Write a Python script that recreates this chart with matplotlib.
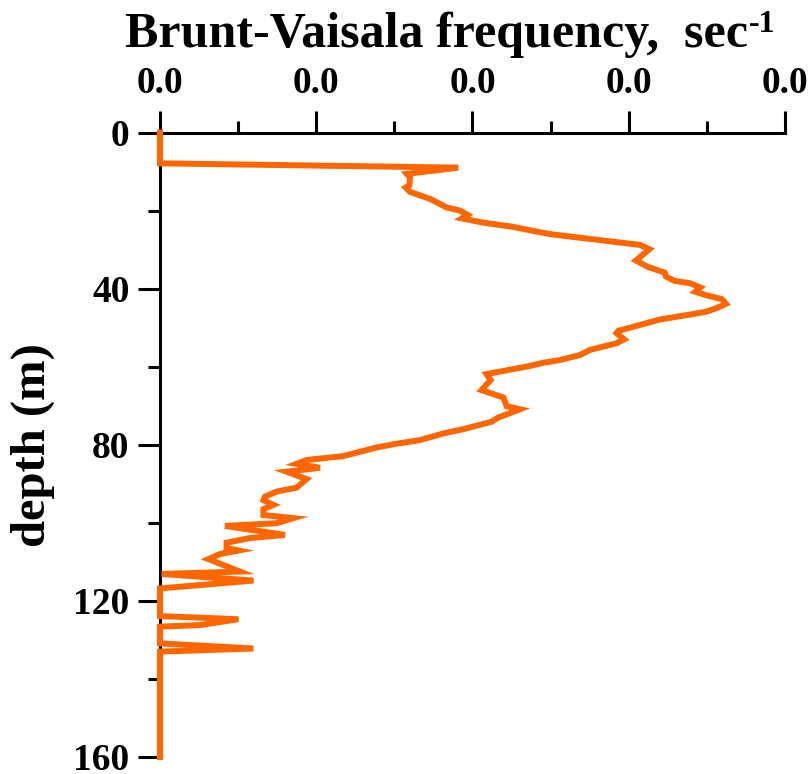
import matplotlib
matplotlib.use('Agg')
import matplotlib.pyplot as plt
import matplotlib.ticker as ticker

plt.rcParams['font.family'] = ['Liberation Serif', 'DejaVu Serif']
plt.rcParams['font.weight'] = 'bold'

# ----------------------------------------------------------------------
# Profile: depth (m) and N (sec^-1)
depth = [0, 7.9, 9.0, 10.6, 11.5, 13.5, 14.1, 15.2, 17.1, 19.2, 20.0, 21.1, 22.0, 23.1,
         24.1, 25.2, 26.1, 28.8, 29.9, 32.8, 34.4, 35.9, 36.9, 38.0, 38.6, 39.7, 40.8,
         41.6, 42.7, 43.9, 45.0, 45.9, 46.8, 47.9, 49.3, 50.8, 51.4, 53.0, 54.0, 55.7,
         57.0, 58.3, 59.0, 59.8, 61.9, 63.4, 66.0, 67.9, 70.1, 70.9, 71.9, 73.0, 74.1,
         76.0, 77.1, 78.8, 79.8, 80.7, 82.9, 83.9, 84.9, 85.9, 86.9, 88.8, 91.0, 92.0,
         93.3, 94.2, 95.4, 96.5, 98.0, 98.8, 100.1, 100.8, 103.1, 103.9, 105.1, 106.5,
         107.1, 108.0, 109.3, 112.5, 113.1, 114.8, 116.8, 123.9, 124.7, 126.2, 126.6,
         130.9, 132.2, 133.0, 160]
bv_freq = [0.0, 0.0, 0.00954, 0.00790, 0.00800, 0.00798, 0.00786, 0.00800, 0.00867, 0.00917,
           0.00960, 0.00984, 0.00966, 0.01034, 0.01125, 0.01193, 0.01254, 0.01536, 0.01566,
           0.01523, 0.01560, 0.01615, 0.01619, 0.01646, 0.01695, 0.01729, 0.01713, 0.01744,
           0.01798, 0.01811, 0.01781, 0.01749, 0.01685, 0.01600, 0.01536, 0.01467, 0.01461,
           0.01485, 0.01461, 0.01376, 0.01344, 0.01280, 0.01226, 0.01184, 0.01045, 0.01058,
           0.01029, 0.01099, 0.01109, 0.01152, 0.01120, 0.01083, 0.01061, 0.00971, 0.00907,
           0.00832, 0.00752, 0.00693, 0.00587, 0.00469, 0.00437, 0.00512, 0.00405, 0.00469,
           0.00437, 0.00373, 0.00336, 0.00331, 0.00363, 0.00331, 0.00331, 0.00427, 0.00373,
           0.00208, 0.00400, 0.00288, 0.00213, 0.00213, 0.00251, 0.00192, 0.00155, 0.00256,
           0.00005, 0.00299, 0.0, 0.0, 0.00251, 0.00128, 0.0, 0.0, 0.00299, 0.0, 0.0]

x_major = [0.0, 0.005, 0.01, 0.015, 0.02]
x_minor = [0.0025, 0.0075, 0.0125, 0.0175]
y_major = [0, 40, 80, 120, 160]
y_minor = [20, 60, 100, 140]

W, H = 812, 774
fig = plt.figure(figsize=(W / 100, H / 100), dpi=100)
ax = fig.add_axes([160/W, 17/H, 625/W, 624.5/H])

ax.plot(bv_freq, depth, color='#ff6600', linewidth=4.3, solid_joinstyle='miter',
        clip_on=False, zorder=5)

ax.set_xlim(0, 0.02)
ax.set_ylim(160, 0)

# only top and left axes, ticks pointing outward
ax.spines['right'].set_visible(False)
ax.spines['bottom'].set_visible(False)
ax.spines['top'].set_linewidth(2.2)
ax.spines['left'].set_linewidth(2.2)

ax.xaxis.tick_top()
ax.xaxis.set_major_locator(ticker.FixedLocator(x_major))
ax.xaxis.set_minor_locator(ticker.FixedLocator(x_minor))
ax.xaxis.set_major_formatter(ticker.FormatStrFormatter('%.1f'))
ax.yaxis.set_major_locator(ticker.FixedLocator(y_major))
ax.yaxis.set_minor_locator(ticker.FixedLocator(y_minor))

ax.tick_params(axis='both', which='both', direction='out', width=2.2, labelsize=27)
ax.tick_params(axis='both', which='major', length=16)
ax.tick_params(axis='both', which='minor', length=9)
ax.tick_params(axis='x', which='major', pad=7)
ax.tick_params(axis='y', which='major', pad=6)

ax.set_ylabel('depth (m)', fontsize=35, fontweight='bold', labelpad=13)

# title above the top axis, with a small raised "-1"
title = fig.text(125/W, 1 - 47/H, 'Brunt-Vaisala frequency,  sec', fontsize=36,
                 ha='left', va='baseline')
fig.canvas.draw()
bb = title.get_window_extent()
fig.text(bb.x1 / W + 1/W, 1 - 32/H, '-1', fontsize=23, ha='left', va='baseline')

plt.savefig('out.png', dpi=100)
